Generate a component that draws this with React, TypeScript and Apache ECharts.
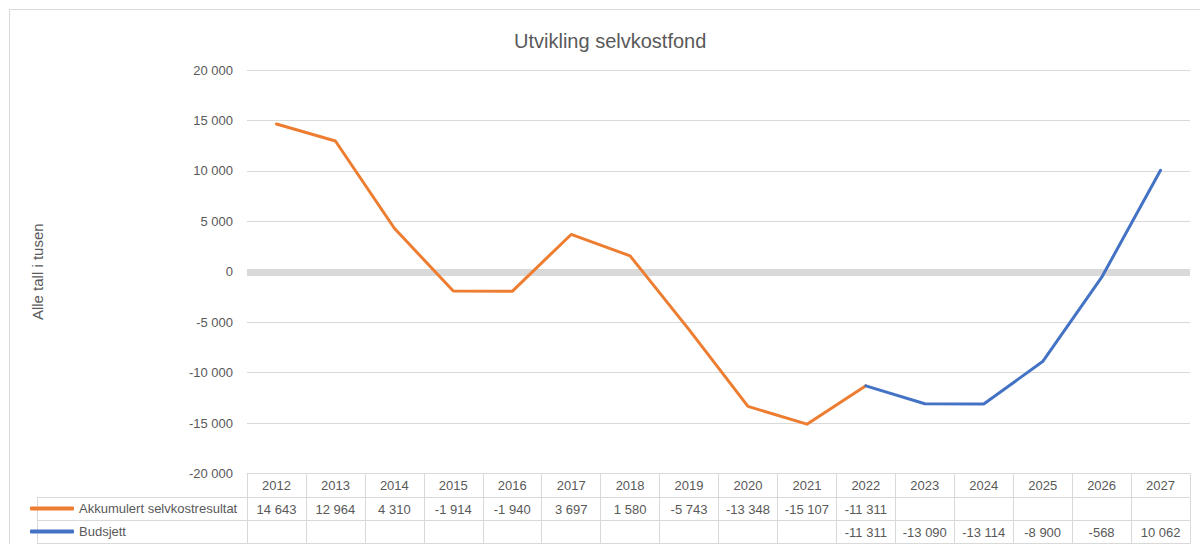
import React, { useEffect, useRef } from "react";
import * as echarts from "echarts";

const years = ["2012", "2013", "2014", "2015", "2016", "2017", "2018", "2019", "2020", "2021", "2022", "2023", "2024", "2025", "2026", "2027"];
const akkumulert: (number | null)[] = [14643, 12964, 4310, -1914, -1940, 3697, 1580, -5743, -13348, -15107, -11311, null, null, null, null, null];
const budsjett: (number | null)[] = [null, null, null, null, null, null, null, null, null, null, -11311, -13090, -13114, -8900, -568, 10062];
const seriesNames = ["Akkumulert selvkostresultat", "Budsjett"];
const yTicks = { min: -20000, max: 20000, interval: 5000 };

const fmt = (v: number | null | undefined): string => {
  if (v === null || v === undefined) return "";
  const s = Math.abs(Math.round(v)).toString().replace(/\B(?=(\d{3})+(?!\d))/g, " ");
  return (v < 0 ? "-" : "") + s;
};

const FONT = "Liberation Sans";
const TXT = "#595959";
const LINE = "#d9d9d9";

export default function App() {
  const ref = useRef<HTMLDivElement>(null);
  useEffect(() => {
    document.body.style.margin = "0";
    if (!ref.current) return;
    const chart = echarts.init(ref.current, undefined, { renderer: "svg" });
    const tableAxis = (offset: number, rowVals: (number | null)[] | null, tickLen: number, showTick: boolean) => ({
      type: "category",
      data: years,
      position: "bottom",
      offset,
      boundaryGap: true,
      axisLine: { show: true, onZero: false, lineStyle: { color: LINE, width: 1 } },
      axisTick: { show: showTick, interval: 0, length: tickLen, lineStyle: { color: LINE } },
      axisLabel: {
        show: true,
        interval: 0,
        margin: 5,
        fontFamily: FONT,
        fontSize: 13,
        color: TXT,
        formatter: (v: string, i: number) => (rowVals ? fmt(rowVals[i]) : v),
      },
      splitLine: { show: false },
    });
    chart.setOption({
      animation: false,
      backgroundColor: "#ffffff",
      title: {
        text: "Utvikling selvkostfond",
        left: 509,
        top: 26,
        textStyle: { fontFamily: FONT, fontSize: 20, fontWeight: "normal", color: TXT },
      },
      legend: {
        data: seriesNames,
        orient: "vertical",
        left: 30,
        top: 497,
        padding: 0,
        itemGap: 0,
        itemWidth: 44,
        itemHeight: 4,
        icon: "roundRect",
        textStyle: { fontFamily: FONT, fontSize: 13, color: TXT, lineHeight: 23 },
      },
      grid: { left: 247, right: 10, top: 70, bottom: 70.5, containLabel: false },
      xAxis: [
        tableAxis(0, null, 24, true),
        tableAxis(24, akkumulert, 23, true),
        tableAxis(47, budsjett, 23, true),
        { ...tableAxis(70, null, 0, false), axisLabel: { show: false } },
      ],
      yAxis: [
        {
          type: "value",
          min: yTicks.min,
          max: yTicks.max,
          interval: yTicks.interval,
          name: "Alle tall i tusen",
          nameLocation: "middle",
          nameRotate: 90,
          nameGap: 202,
          nameTextStyle: { fontFamily: FONT, fontSize: 15, color: TXT },
          axisLine: { show: false },
          axisTick: { show: false },
          axisLabel: { margin: 14, fontFamily: FONT, fontSize: 13, color: TXT, formatter: (v: number) => fmt(v) },
          splitLine: { show: true, lineStyle: { color: LINE, width: 1 } },
        },
        {
          type: "value",
          min: yTicks.min,
          max: yTicks.max,
          interval: yTicks.max,
          position: "left",
          axisLine: { show: false },
          axisTick: { show: false },
          axisLabel: { show: false },
          splitLine: { show: true, showMinLine: false, showMaxLine: false, lineStyle: { color: LINE, width: 7 } },
        },
      ],
      graphic: [
        { type: "rect", shape: { x: 9.5, y: 9.5, width: 1250, height: 600 }, style: { fill: "none", stroke: LINE, lineWidth: 1 }, z: -1, silent: true },
        { type: "line", shape: { x1: 37, y1: 497.5, x2: 247, y2: 497.5 }, style: { stroke: LINE, lineWidth: 1 }, silent: true },
        { type: "line", shape: { x1: 37, y1: 520.5, x2: 247, y2: 520.5 }, style: { stroke: LINE, lineWidth: 1 }, silent: true },
        { type: "line", shape: { x1: 37, y1: 543.5, x2: 247, y2: 543.5 }, style: { stroke: LINE, lineWidth: 1 }, silent: true },
        { type: "line", shape: { x1: 37.5, y1: 497, x2: 37.5, y2: 544 }, style: { stroke: LINE, lineWidth: 1 }, silent: true },
      ],
      series: [
        {
          name: seriesNames[0],
          type: "line",
          data: akkumulert,
          symbol: "none",
          z: 3,
          lineStyle: { width: 3, color: "#ED7D31", cap: "round", join: "round" },
          itemStyle: { color: "#ED7D31" },
        },
        {
          name: seriesNames[1],
          type: "line",
          data: budsjett,
          symbol: "none",
          z: 3,
          lineStyle: { width: 3, color: "#4472C4", cap: "round", join: "round" },
          itemStyle: { color: "#4472C4" },
        },
      ],
    });
    return () => chart.dispose();
  }, []);
  return <div ref={ref} style={{ width: 1200, height: 544 }} />;
}
